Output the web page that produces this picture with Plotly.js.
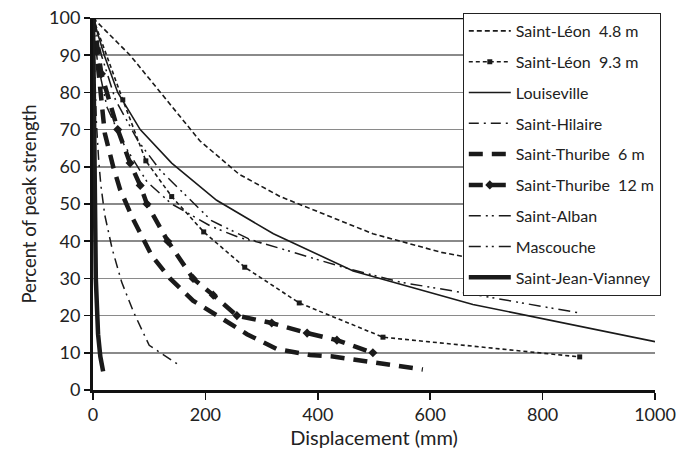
<!DOCTYPE html>
<html>
<head>
<meta charset="utf-8">
<script src="https://cdn.plot.ly/plotly-3.0.1.min.js"></script>
<style>html,body{margin:0;padding:0;background:#fff;}#chart{width:678px;height:453px;}</style>
</head>
<body>
<div id="chart"></div>
<script>
// Series data (displacement mm, percent of peak strength)
const leon48X = [0, 66, 120, 190, 260, 333, 498, 620, 760];
const leon48Y = [100, 90, 80, 67, 58, 52, 42, 37, 33];
const leon93X = [0, 53, 94, 140, 197, 270, 367, 516, 866];
const leon93Y = [100, 78, 61.6, 52, 42.5, 33, 23.4, 14.2, 8.9];
const louisX = [0, 20, 44, 84, 140, 220, 321, 463, 676, 1000];
const louisY = [100, 90, 80, 70, 61, 51, 42, 32, 23, 13];
const hilaireX = [0, 3, 6, 10, 14, 21, 34, 51, 72, 100, 150];
const hilaireY = [100, 85, 72, 62, 55, 47, 38, 29, 21, 12, 7];
const thur6X = [0, 10, 21, 36, 48, 71, 105, 137, 178, 221, 274, 327, 386, 427, 546, 587];
const thur6Y = [100, 85, 69, 60, 54, 46, 36, 30, 24, 20, 15, 11, 9.4, 9, 6.2, 5.5];
const thur12X = [0, 15, 44, 66, 84, 96, 133, 178, 214, 256, 318, 381, 434, 498];
const thur12Y = [100, 85, 70, 61, 55, 50, 40, 30, 25.5, 20, 18, 15.3, 13.4, 10];
const albanX = [0, 8, 25, 55, 96, 140, 175, 210, 260, 300];
const albanY = [100, 88, 76, 66, 56, 50, 47, 44, 41, 39.5];
const mascX = [0, 15, 40, 80, 120, 167, 211, 279, 356, 445, 546, 665, 866];
const mascY = [100, 90, 78, 67, 59, 52, 45.5, 40.5, 37, 33, 29, 26, 20.7];
const sjvX = [0, 2, 5, 9, 13, 18];
const sjvY = [100, 60, 30, 15, 9, 5];

const names = ["Saint-Léon  4.8 m", "Saint-Léon  9.3 m", "Louiseville", "Saint-Hilaire",
  "Saint-Thuribe  6 m", "Saint-Thuribe  12 m", "Saint-Alban", "Mascouche", "Saint-Jean-Vianney"];
const xTicks = [0, 200, 400, 600, 800, 1000];
const yTicks = [0, 10, 20, 30, 40, 50, 60, 70, 80, 90, 100];

const c = "#1a1a1a";
let gi = 0;
function tr(x, y, name, line, marker) {
  const t = {x: x, y: y, name: name, type: "scatter", mode: marker ? "lines+markers" : "lines",
    legendgroup: "g" + (gi++), line: Object.assign({color: c}, line)};
  if (marker) t.marker = marker;
  return t;
}
const data = [
  tr(leon48X, leon48Y, names[0], {width: 1.6, dash: "5px,3px"}),
  tr(leon93X, leon93Y, names[1], {width: 1.6, dash: "4px,3px"}, {symbol: "square", size: 5, color: c}),
  tr(louisX, louisY, names[2], {width: 1.6}),
  tr(hilaireX, hilaireY, names[3], {width: 1.5, dash: "10px,5px,2px,5px"}),
  tr(thur6X, thur6Y, names[4], {width: 4.5, dash: "14px,9px"}),
  tr(thur12X, thur12Y, names[5], {width: 4.5, dash: "14px,9px"}, {symbol: "diamond", size: 7, color: c}),
  tr(albanX, albanY, names[6], {width: 1.5, dash: "12px,5px,2px,4px,2px,5px"}),
  tr(mascX, mascY, names[7], {width: 1.5, dash: "12px,5px,2px,4px,2px,5px"}),
  tr(sjvX, sjvY, names[8], {width: 4.5})
];

const layout = {
  width: 678, height: 453,
  margin: {l: 93, r: 23, t: 18, b: 63},
  paper_bgcolor: "#fff", plot_bgcolor: "#fff",
  font: {family: "Lato, 'Open Sans', sans-serif", color: "#222"},
  showlegend: true,
  legend: {x: 0.658, y: 1.0134, xanchor: "left", yanchor: "top",
    bgcolor: "#fff", bordercolor: "#222", borderwidth: 1, maxheight: 420,
    font: {size: 16, color: "#222"}, itemwidth: 42, tracegroupgap: 7},
  xaxis: {range: [0, 1000], tickvals: xTicks, ticktext: xTicks.map(String),
    showgrid: false, zeroline: false, showline: true, linecolor: "#111", linewidth: 2.5,
    ticks: "outside", ticklen: 7, tickwidth: 1.5, tickcolor: "#111",
    tickfont: {size: 18}, title: {text: "Displacement (mm)", font: {size: 20}, standoff: 4}},
  yaxis: {range: [0, 100], tickvals: yTicks, ticktext: yTicks.map(String),
    showgrid: true, gridcolor: "#8a8a8a", gridwidth: 1.5, zeroline: false,
    showline: true, linecolor: "#111", linewidth: 3,
    ticks: "outside", ticklen: 6, tickwidth: 1.5, tickcolor: "#111",
    tickfont: {size: 18}, title: {text: "Percent of peak strength", font: {size: 18.5}, standoff: 8}},
  shapes: [{type: "line", xref: "paper", yref: "y", x0: 0, x1: 1, y0: 100, y1: 100,
    line: {color: "#111", width: 2.5}, layer: "above"}]
};
Plotly.newPlot("chart", data, layout, {displayModeBar: false, staticPlot: true});
</script>
</body>
</html>
